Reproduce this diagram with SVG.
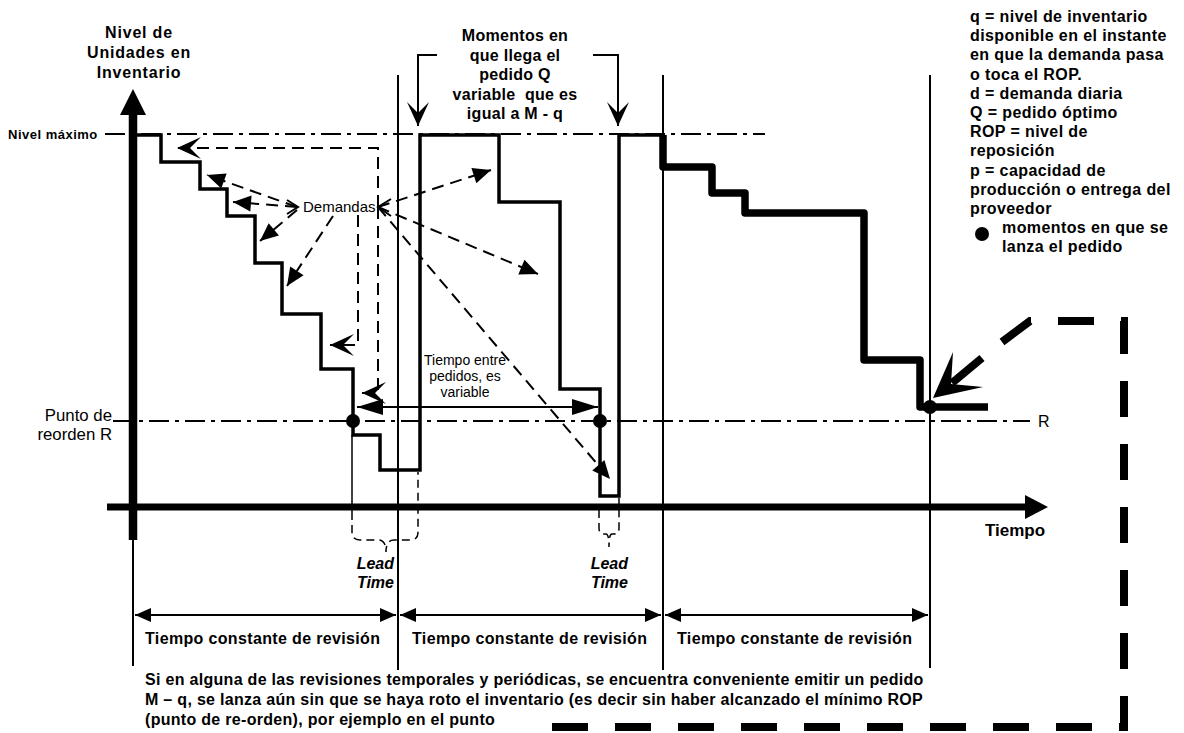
<svg xmlns="http://www.w3.org/2000/svg" width="1184" height="733" viewBox="0 0 1184 733">
<style>
text{font-family:"Liberation Sans",Arial,sans-serif;fill:#000}
.b{font-weight:bold}
.t16{font-size:16px}
.thin{fill:none;stroke:#000;stroke-width:2}
.dd{fill:none;stroke:#000;stroke-width:2;stroke-dasharray:20 6 4 6}
.dash{fill:none;stroke:#000;stroke-width:2;stroke-dasharray:12 7}
.brace{fill:none;stroke:#000;stroke-width:1.5}
.bd{fill:none;stroke:#000;stroke-width:1.5;stroke-dasharray:8 5}
</style>
<defs>
<marker id="fa" markerUnits="userSpaceOnUse" viewBox="-20 -10 21 20" refX="0" refY="0" markerWidth="21" markerHeight="20" orient="auto-start-reverse"><path d="M0,0 L-18,-8 L-18,8 Z" fill="#000"/></marker>
<marker id="fr" markerUnits="userSpaceOnUse" viewBox="-18 -9 19 18" refX="0" refY="0" markerWidth="19" markerHeight="18" orient="auto-start-reverse"><path d="M0,0 L-16,-7 L-16,7 Z" fill="#000"/></marker>
<marker id="fb" markerUnits="userSpaceOnUse" viewBox="-28 -10 29 20" refX="0" refY="0" markerWidth="29" markerHeight="20" orient="auto-start-reverse"><path d="M0,0 L-26,-8 L-26,8 Z" fill="#000"/></marker>
<marker id="st" markerUnits="userSpaceOnUse" viewBox="-26 -13 27 26" refX="0" refY="0" markerWidth="27" markerHeight="26" orient="auto"><path d="M0,0 L-24,-11 L-13,0 L-24,11 Z" fill="#000"/></marker>
</defs>
<rect width="1184" height="733" fill="#fff"/>

<g id="reference-lines">
<path class="dd" d="M105 134 H765"/>
<path class="dd" d="M113 421 H1030"/>
<path class="thin" d="M398 75 V670 M663 75 V670 M930 75 V668 M133 540 V666"/>
</g>

<g id="axes">
<path d="M133 110 V540" stroke="#000" stroke-width="8.5" fill="none"/>
<polygon points="133,89 146,115 120,115" fill="#000"/>
<path d="M107 507 H1027" stroke="#000" stroke-width="7" fill="none"/>
<polygon points="1048,507 1025,495 1025,519" fill="#000"/>
</g>

<g id="inventory-level">
<path d="M137 135 H161 V162 H200 V189 H227 V216 H255 V263 H282 V314 H321 V369 H353 V435 H380 V470 H420 V135 H499 V202 H560 V389 H600 V496 H619 V135 H663" fill="none" stroke="#000" stroke-width="3.5" stroke-linejoin="miter"/>
<path d="M663 135 V167 H712 V193 H745 V213 H864 V360 H920 V407 H988" fill="none" stroke="#000" stroke-width="7.5" stroke-linejoin="round"/>
</g>

<g id="order-points">
<circle cx="353" cy="421" r="7"/>
<circle cx="600" cy="421" r="7"/>
<circle cx="930" cy="407" r="7"/>
</g>

<g id="connectors">
<path class="thin" d="M437 55 H418 V126" marker-end="url(#st)"/>
<path class="thin" d="M593 55 H618 V126" marker-end="url(#st)"/>
<path class="dash" d="M378 207 V148 H177" marker-end="url(#st)"/>
<path class="dash" d="M378 207 V393 H362" marker-end="url(#st)"/>
<path class="dash" d="M358 215 V345 H330" marker-end="url(#st)"/>
<path class="dash" d="M297 207 L207 175" marker-end="url(#fa)"/>
<path class="dash" d="M297 207 L233 202" marker-end="url(#fa)"/>
<path class="dash" d="M297 210 L260 241" marker-end="url(#fa)"/>
<path class="dash" d="M333 216 L287 286" marker-end="url(#fa)"/>
<path class="dash" d="M378 207 L491 170" marker-end="url(#fa)"/>
<path class="dash" d="M378 207 L538 274" marker-end="url(#fa)"/>
<path class="dash" d="M378 207 L610 479" marker-end="url(#fa)"/>
<path class="thin" d="M287 200 L298 207 L287 214"/>
<path class="thin" d="M391 199 L378 207 L391 216"/>
<path class="thin" d="M357 407 H598" marker-start="url(#fb)" marker-end="url(#fb)"/>
<path class="thin" d="M135 615 H396" marker-start="url(#fr)" marker-end="url(#fr)"/>
<path class="thin" d="M400 615 H661" marker-start="url(#fr)" marker-end="url(#fr)"/>
<path class="thin" d="M665 615 H928" marker-start="url(#fr)" marker-end="url(#fr)"/>
<path class="brace" d="M352 435 V512"/>
<path class="bd" d="M352 512 V532 Q352 540 360 540 H378 Q386 540 386 552 Q386 540 394 540 H410 Q418 540 418 532 V472"/>
<path class="bd" d="M599 510 V528 Q599 534 604 534 H606 Q609 534 609 547 Q609 534 612 534 H614 Q619 534 619 528 V498"/>
<path d="M552 727 H1124 V321 H1030 L998 345" fill="none" stroke="#000" stroke-width="8" stroke-dasharray="36 27"/>
<path d="M982 358 L952 383" stroke="#000" stroke-width="8" fill="none"/>
<polygon points="933,398 953,352 951,384 983,387" fill="#000"/>
</g>

<g id="y-label">
<text class="b t16" x="139" y="38" text-anchor="middle" letter-spacing="0.8">Nivel de</text>
<text class="b t16" x="139" y="58" text-anchor="middle" letter-spacing="0.8">Unidades en</text>
<text class="b t16" x="139" y="78" text-anchor="middle" letter-spacing="0.8">Inventario</text>
</g>
<g id="nivel-maximo"><text class="b" x="8" y="139" font-size="13" letter-spacing="0.5">Nivel máximo</text></g>
<g id="punto-reorden">
<text x="112" y="421" font-size="16.8" text-anchor="end">Punto de</text>
<text x="112" y="440" font-size="16.8" text-anchor="end">reorden R</text>
</g>
<g id="r-label"><text class="t16" x="1038" y="427">R</text></g>
<g id="tiempo-label"><text class="b" x="985" y="536" font-size="17">Tiempo</text></g>
<g id="momentos">
<text class="b t16" x="515" y="41" text-anchor="middle" letter-spacing="0.3">Momentos en</text>
<text class="b t16" x="515" y="60.5" text-anchor="middle" letter-spacing="0.3">que llega el</text>
<text class="b t16" x="515" y="80" text-anchor="middle" letter-spacing="0.3">pedido Q</text>
<text class="b t16" x="515" y="99.5" text-anchor="middle" letter-spacing="0.3" xml:space="preserve">variable  que es</text>
<text class="b t16" x="515" y="119" text-anchor="middle" letter-spacing="0.3">igual a M - q</text>
</g>
<g id="demandas"><text x="303" y="212" font-size="15">Demandas</text></g>
<g id="tiempo-entre">
<text x="465" y="365" font-size="14" text-anchor="middle">Tiempo entre</text>
<text x="465" y="381" font-size="14" text-anchor="middle">pedidos, es</text>
<text x="465" y="397" font-size="14" text-anchor="middle">variable</text>
</g>
<g id="lead-time-1">
<text class="b t16" x="394" y="569" text-anchor="end" font-style="italic">Lead</text>
<text class="b t16" x="394" y="588" text-anchor="end" font-style="italic">Time</text>
</g>
<g id="lead-time-2">
<text class="b t16" x="628" y="569" text-anchor="end" font-style="italic">Lead</text>
<text class="b t16" x="628" y="588" text-anchor="end" font-style="italic">Time</text>
</g>
<g id="revision-labels">
<text class="b t16" x="145" y="644" letter-spacing="0.35">Tiempo constante de revisión</text>
<text class="b t16" x="412" y="644" letter-spacing="0.35">Tiempo constante de revisión</text>
<text class="b t16" x="677" y="644" letter-spacing="0.35">Tiempo constante de revisión</text>
</g>
<g id="legend">
<text class="b t16" x="970" y="22" letter-spacing="0.4">q = nivel de inventario</text>
<text class="b t16" x="970" y="41.2" letter-spacing="0.4">disponible en el instante</text>
<text class="b t16" x="970" y="60.4" letter-spacing="0.4">en que la demanda pasa</text>
<text class="b t16" x="970" y="79.6" letter-spacing="0.4">o toca el ROP.</text>
<text class="b t16" x="970" y="98.8" letter-spacing="0.4">d = demanda diaria</text>
<text class="b t16" x="970" y="118" letter-spacing="0.4">Q = pedido óptimo</text>
<text class="b t16" x="970" y="137.2" letter-spacing="0.4">ROP = nivel de</text>
<text class="b t16" x="970" y="156.4" letter-spacing="0.4">reposición</text>
<text class="b t16" x="970" y="175.6" letter-spacing="0.4">p = capacidad de</text>
<text class="b t16" x="970" y="194.8" letter-spacing="0.4">producción o entrega del</text>
<text class="b t16" x="970" y="214" letter-spacing="0.4">proveedor</text>
<circle cx="982" cy="234" r="7"/>
<text class="b t16" x="1002" y="233.2" letter-spacing="0.4">momentos en que se</text>
<text class="b t16" x="1002" y="252.4" letter-spacing="0.4">lanza el pedido</text>
</g>
<g id="note">
<text class="b t16" x="145" y="685" letter-spacing="0.3">Si en alguna de las revisiones temporales y periódicas, se encuentra conveniente emitir un pedido</text>
<text class="b t16" x="145" y="705" letter-spacing="0.3">M – q, se lanza aún sin que se haya roto el inventario (es decir sin haber alcanzado el mínimo ROP</text>
<text class="b t16" x="145" y="725" letter-spacing="0.3">(punto de re-orden), por ejemplo en el punto</text>
</g>
</svg>
